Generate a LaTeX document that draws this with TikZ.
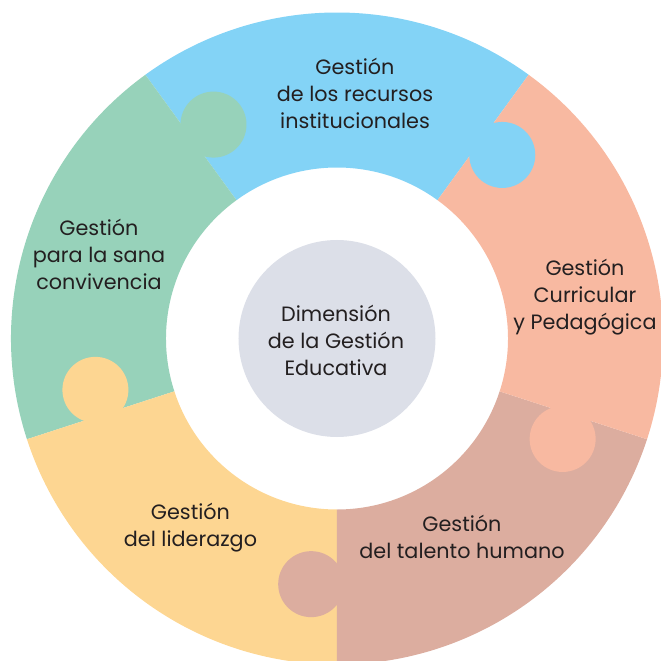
\documentclass[tikz,border=0pt]{standalone}
\usepackage{fontspec}
\setmainfont{Poppins}
\usepackage{tikz}
\usepackage{color}
\definecolor{recblue}{HTML}{83D3F6}
\definecolor{conviv}{HTML}{97D2BA}
\definecolor{curric}{HTML}{F8B9A1}
\definecolor{talent}{HTML}{DCAD9F}
\definecolor{lider}{HTML}{FDD692}
\definecolor{core}{HTML}{DCDFE8}
\definecolor{ink}{HTML}{231F20}
\tikzset{
  label/.style={text=ink,align=center,font=\fontsize{11.8}{15.4}\selectfont},
  tab/.style={radius=0.66}
}
\begin{document}
\begin{tikzpicture}
\useasboundingbox (-6.74,-6.45) rectangle (6.48,6.77);
\fill[recblue](54:3.42) arc[start angle=54,end angle=126,radius=3.42]--(126:6.52) arc[start angle=126,end angle=54,radius=6.52]--cycle;
\fill[conviv](126:3.42) arc[start angle=126,end angle=198,radius=3.42]--(198:6.52) arc[start angle=198,end angle=126,radius=6.52]--cycle;
\fill[lider](198:3.42) arc[start angle=198,end angle=270,radius=3.42]--(270:6.52) arc[start angle=270,end angle=198,radius=6.52]--cycle;
\fill[talent](270:3.42) arc[start angle=270,end angle=342,radius=3.42]--(342:6.52) arc[start angle=342,end angle=270,radius=6.52]--cycle;
\fill[curric](-18:3.42) arc[start angle=-18,end angle=54,radius=3.42]--(54:6.52) arc[start angle=54,end angle=-18,radius=6.52]--cycle;
\fill[conviv][tab] (120:4.94) circle;
\fill[recblue][tab] (48:4.94) circle;
\fill[curric][tab] (336:4.94) circle;
\fill[talent][tab] (264:4.94) circle;
\fill[lider][tab] (192:4.94) circle;
\fill[core] (0,0) circle [radius=1.97];
\node[label] (dim) at (-0.02,-0.03) {Dimensión\\de la Gestión\\Educativa};
\node[label] (recursos) at (0.36,4.9) {Gestión\\de los recursos\\institucionales};
\node[label] (curricular) at (4.96,0.83) {Gestión\\Curricular\\y Pedagógica};
\node[label] (talento) at (2.5,-3.97) {Gestión\\del talento humano};
\node[label] (liderazgo) at (-2.93,-3.78) {Gestión\\del liderazgo};
\node[label] (convivencia) at (-4.76,1.69) {Gestión\\para la sana\\convivencia};
\end{tikzpicture}
\end{document}
